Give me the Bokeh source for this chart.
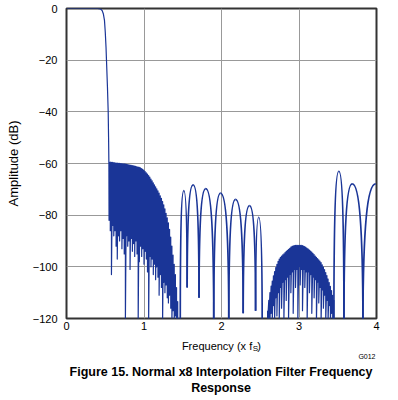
from bokeh.plotting import figure
from bokeh.layouts import column
from bokeh.models import FixedTicker, Label, Range1d
from bokeh.embed import file_html
from bokeh.resources import INLINE

# ---------------- data ----------------
x_ticks = [0, 1, 2, 3, 4]
x_tick_labels = ["0", "1", "2", "3", "4"]
y_ticks = [0, -20, -40, -60, -80, -100, -120]
y_tick_labels = ["0", "\u221220", "\u221240", "\u221260", "\u221280", "\u2212100", "\u2212120"]

# passband and transition band
pass_x = [0.0, 0.1, 0.2, 0.3, 0.4, 0.44, 0.46, 0.475, 0.49, 0.50, 0.51, 0.516, 0.528, 0.538, 0.543, 0.547, 0.549]
pass_db = [0.0, 0.0, 0.0, 0.0, 0.0, -0.2, -0.8, -2.0, -4.6, -9.0, -15.0, -20.0, -30.0, -40.0, -50.0, -60.0, -82.0]

# first dense stopband region: lobe positions, lobe peaks, following nulls
dense1_x = [0.550, 0.565, 0.580, 0.595, 0.610, 0.625, 0.640, 0.655, 0.670, 0.685,
            0.700, 0.715, 0.730, 0.745, 0.760, 0.775, 0.790, 0.805, 0.820, 0.835,
            0.850, 0.865, 0.880, 0.895, 0.910, 0.925, 0.940, 0.955, 0.970, 0.985,
            1.000, 1.015, 1.030, 1.045, 1.060, 1.075, 1.090, 1.105, 1.120, 1.135,
            1.150, 1.165, 1.180, 1.195, 1.210, 1.225, 1.240, 1.255, 1.270, 1.285,
            1.300, 1.315, 1.330, 1.345, 1.360, 1.375, 1.390, 1.405, 1.420, 1.435,
            1.450]
dense1_peak = [-59.5, -59.5, -59.6, -59.6, -59.7, -59.7, -59.8, -59.8, -59.9, -59.9,
               -60.0, -60.0, -60.1, -60.1, -60.2, -60.3, -60.4, -60.5, -60.6, -60.7,
               -60.8, -60.9, -61.0, -61.1, -61.3, -61.4, -61.5, -61.7, -62.0, -62.3,
               -62.7, -63.1, -63.6, -64.1, -64.7, -65.3, -66.0, -66.7, -67.5, -68.3,
               -69.0, -69.8, -70.6, -71.5, -72.5, -73.5, -74.7, -76.0, -77.6, -79.3,
               -81.0, -83.0, -85.5, -88.5, -92.0, -95.5, -99.0, -103.0, -108.0, -113.5,
               -120.0]
dense1_null = [-82, -86, -103, -84, -88, -86, -92, -97, -88, -90,
               -86, -93, -89, -95, -121, -88, -92, -90, -101, -89,
               -94, -91, -96, -90, -95, -121, -98, -92, -96, -93,
               -99, -94, -97, -102, -121, -96, -100, -97, -103, -99,
               -105, -100, -104, -111, -103, -108, -121, -106, -110, -107,
               -112, -114, -111, -116, -121, -117, -121, -119, -121, -121,
               -121]

# sparse lobes between the dense regions (null, peak, null, ...)
sparse1_x = [1.468, 1.514, 1.557, 1.634, 1.710, 1.797, 1.900, 1.987, 2.094, 2.181, 2.280, 2.361, 2.440, 2.480, 2.525]
sparse1_db = [-121, -70.5, -108, -68.3, -112, -69.7, -121, -71.5, -121, -73.9, -118, -76.3, -117, -80.8, -121]

# dense hump around 3 x fS
dense2_x = [2.595, 2.610, 2.625, 2.640, 2.655, 2.670, 2.685, 2.700, 2.715, 2.730,
            2.745, 2.760, 2.775, 2.790, 2.805, 2.820, 2.835, 2.850, 2.865, 2.880,
            2.895, 2.910, 2.925, 2.940, 2.955, 2.970, 2.985, 3.000, 3.015, 3.030,
            3.045, 3.060, 3.075, 3.090, 3.105, 3.120, 3.135, 3.150, 3.165, 3.180,
            3.195, 3.210, 3.225, 3.240, 3.255, 3.270, 3.285, 3.300, 3.315, 3.330,
            3.345, 3.360, 3.375, 3.390, 3.405, 3.420, 3.435, 3.450]
dense2_peak = [-117.0, -113.0, -110.0, -107.5, -105.5, -103.5, -101.8, -100.3, -99.0, -97.9,
               -97.0, -96.3, -95.8, -95.4, -95.0, -94.5, -94.0, -93.6, -93.2, -92.8,
               -92.4, -92.1, -91.9, -91.8, -91.7, -91.7, -91.7, -91.7, -91.7, -91.7,
               -91.8, -92.0, -92.2, -92.5, -92.8, -93.1, -93.5, -93.9, -94.3, -94.8,
               -95.3, -95.8, -96.3, -96.8, -97.3, -97.8, -98.4, -99.2, -100.1, -101.1,
               -102.2, -103.4, -104.7, -106.1, -107.6, -109.2, -111.0, -113.0]
dense2_null = [-121, -121, -121, -118, -121, -115, -121, -112, -119, -110,
               -121, -108, -116, -106, -121, -105, -113, -104, -121, -103,
               -110, -102, -118, -101, -108, -101, -121, -100, -107, -101,
               -117, -101, -108, -102, -121, -102, -110, -103, -118, -104,
               -112, -105, -121, -106, -114, -108, -121, -109, -116, -111,
               -121, -113, -121, -115, -121, -118, -121, -121]

# sparse lobes near 4 x fS (null, peak, null, ...)
sparse2_x = [3.450, 3.514, 3.580, 3.686, 3.825, 3.990]
sparse2_db = [-121, -63.0, -121, -67.9, -121, -67.9]

# ---------------- main figure ----------------
BLUE = "#1a3597"
FONT = "Liberation Sans"

p = figure(width=398, height=338, output_backend="svg", toolbar_location=None,
           x_range=Range1d(0, 4), y_range=Range1d(-120, 0),
           min_border_left=66, min_border_right=22, min_border_top=8, min_border_bottom=20)
p.background_fill_color = "white"
p.border_fill_color = "white"
p.outline_line_color = "#333333"
p.outline_line_width = 2

p.xaxis.ticker = FixedTicker(ticks=x_ticks)
p.yaxis.ticker = FixedTicker(ticks=y_ticks)
p.xaxis.major_label_overrides = {t: s for t, s in zip(x_ticks, x_tick_labels)}
p.yaxis.major_label_overrides = {t: s for t, s in zip(y_ticks, y_tick_labels)}
for ax in (p.xaxis, p.yaxis):
    ax.axis_line_color = None
    ax.major_tick_line_color = None
    ax.minor_tick_line_color = None
    ax.major_tick_out = 0
    ax.major_tick_in = 0
    ax.major_label_text_font = FONT
    ax.major_label_text_font_size = "11px"
    ax.major_label_text_color = "black"
p.xaxis.major_label_standoff = 3
p.yaxis.major_label_standoff = 9
p.yaxis.axis_label = "Amplitude (dB)"
p.yaxis.axis_label_text_font = FONT
p.yaxis.axis_label_text_font_size = "13px"
p.yaxis.axis_label_text_font_style = "normal"
p.yaxis.axis_label_text_color = "black"
p.yaxis.axis_label_standoff = 9

p.xgrid.ticker = FixedTicker(ticks=x_ticks)
p.ygrid.ticker = FixedTicker(ticks=y_ticks)
p.grid.grid_line_color = "#999999"
p.grid.grid_line_width = 1

# passband + first dense region as one trace
d1x = list(pass_x)
d1y = list(pass_db)
for x, pk, nl in zip(dense1_x, dense1_peak, dense1_null):
    d1x += [x, x]
    d1y += [pk, nl]
p.line(d1x, d1y, line_color=BLUE, line_width=1.2, line_join="round")

# hump around 3
d2x, d2y = [], []
for x, pk, nl in zip(dense2_x, dense2_peak, dense2_null):
    d2x += [x, x]
    d2y += [pk, nl]
p.line(d2x, d2y, line_color=BLUE, line_width=1.2, line_join="round")

# sparse lobes drawn as rounded arches (bezier half-lobes from null to peak)
def half_lobes(xs, ys):
    bx0, by0, bx1, by1, cx0, cy0, cx1, cy1 = [], [], [], [], [], [], [], []
    for i in range(len(xs) - 1):
        a = (xs[i], ys[i])
        b = (xs[i + 1], ys[i + 1])
        n, k = (a, b) if a[1] < b[1] else (b, a)
        dx = k[0] - n[0]
        dy = k[1] - n[1]
        bx0.append(n[0]); by0.append(n[1])
        bx1.append(k[0]); by1.append(k[1])
        cx0.append(n[0] + 0.02 * dx); cy0.append(n[1] + 0.7 * dy)
        cx1.append(n[0] + 0.35 * dx); cy1.append(k[1])
    return dict(x0=bx0, y0=by0, x1=bx1, y1=by1, cx0=cx0, cy0=cy0, cx1=cx1, cy1=cy1)

p.bezier(**half_lobes(sparse1_x, sparse1_db), line_color=BLUE, line_width=1.7)
p.bezier(**half_lobes(sparse2_x, sparse2_db), line_color=BLUE, line_width=1.7)

# ---------------- caption strip (x-axis title, figure id, caption) ----------------
# the column aligns this strip's frame with the chart frame (page x 66..376),
# so its x range is given in page pixels of that span
cap = figure(width=398, height=62, output_backend="svg", toolbar_location=None,
             x_range=Range1d(66, 376), y_range=Range1d(400, 338),
             min_border_left=66, min_border_right=22, min_border_top=0, min_border_bottom=0)
cap.axis.visible = False
cap.grid.visible = False
cap.outline_line_color = None
cap.background_fill_color = "white"
cap.border_fill_color = "white"

def lab(text, x, y, size, align="center", bold=False):
    cap.add_layout(Label(x=x, y=y, text=text, text_font=FONT, text_font_size=size,
                         text_font_style="bold" if bold else "normal",
                         text_align=align, text_baseline="middle", text_color="black"))

lab("Frequency (x f", 251.7, 345, "11px", align="right")
lab("S", 252.2, 348, "8px", align="left")
lab(")", 256.8, 345, "11px", align="left")
lab("G012", 375, 356, "7px", align="right")
lab("Figure 15. Normal x8 Interpolation Filter Frequency", 220.5, 371, "12.5px", bold=True)
lab("Response", 220.5, 387, "12.5px", bold=True)

layout = column(p, cap, spacing=0)
open("out.html", "w").write(file_html(layout, INLINE))
